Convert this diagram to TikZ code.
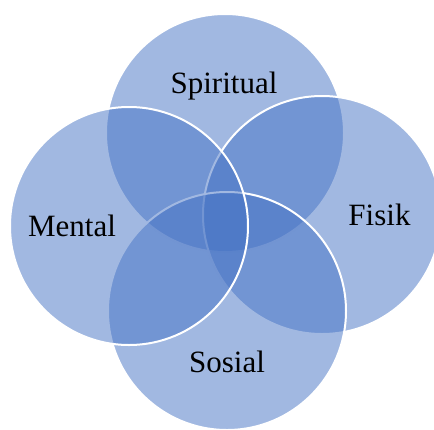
\documentclass[tikz,border=0pt]{standalone}
\usepackage{fontspec}
\setmainfont{Liberation Serif}
\definecolor{accent}{HTML}{4472C4}
\begin{document}
\begin{tikzpicture}[x=1pt,y=-1pt,
  petal/.style={circle, minimum size=238pt, inner sep=0pt, fill=accent, fill opacity=0.5, draw=white, line width=2pt},
  lab/.style={font=\fontsize{31}{36}\selectfont, anchor=base, text=black, inner sep=0pt}]
\useasboundingbox (0,0) rectangle (434,429);
\node[petal] (spiritual) at (225,133) {};
\node[petal] (fisik) at (322,215) {};
\node[petal] (sosial) at (227,311) {};
\node[petal] (mental) at (129,226) {};
\node[lab] (tspiritual) at (224,93) {Spiritual};
\node[lab] (tfisik) at (379.5,225.5) {Fisik};
\node[lab] (tsosial) at (227,372) {Sosial};
\node[lab] (tmental) at (72,236) {Mental};
\end{tikzpicture}
\end{document}
